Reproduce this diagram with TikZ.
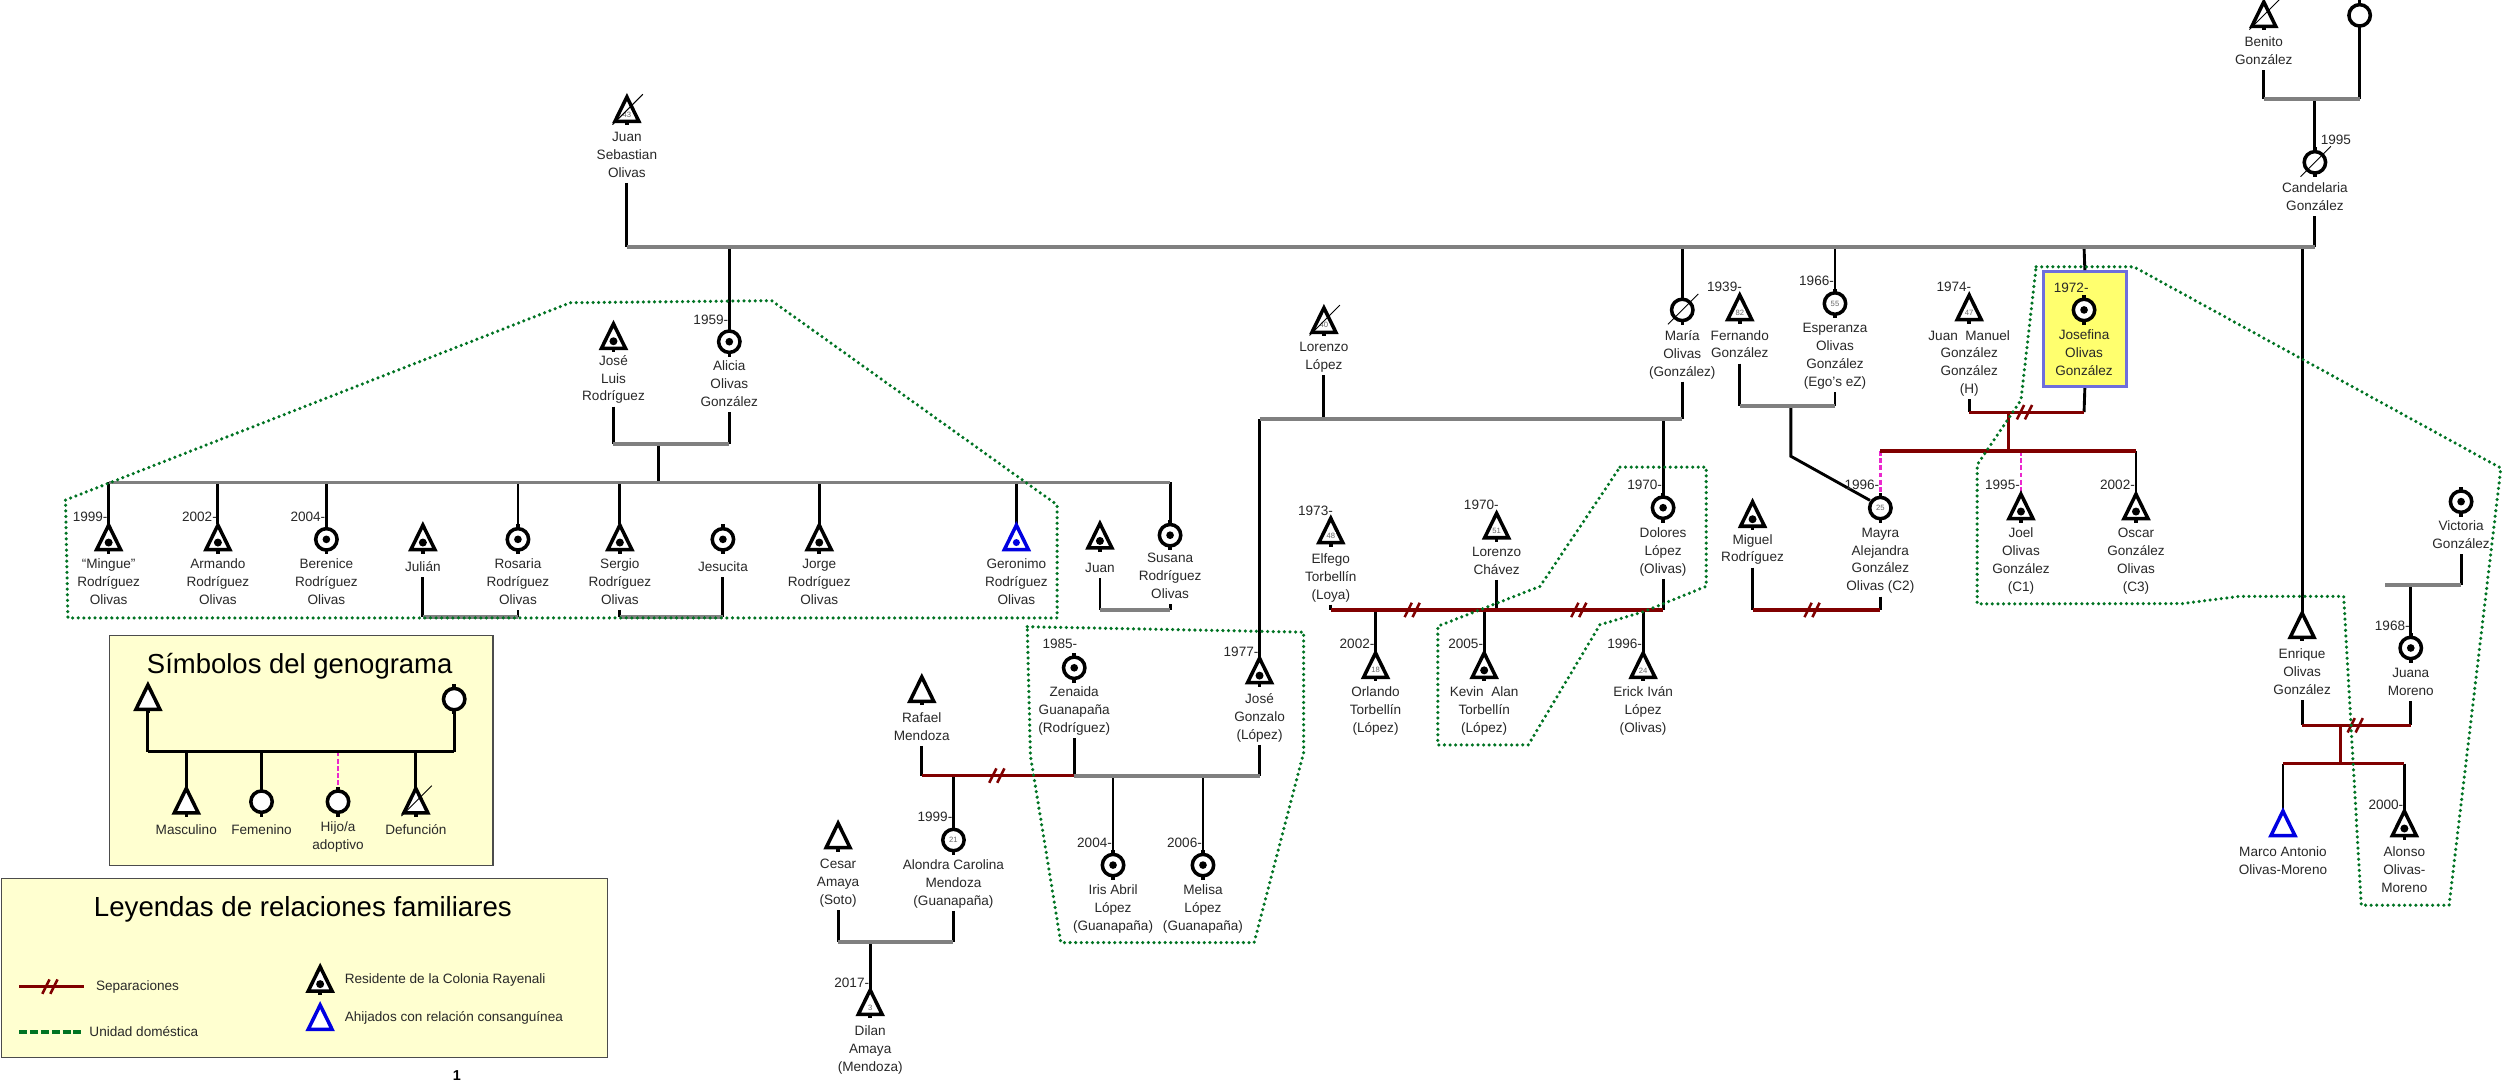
\documentclass[tikz,border=0pt]{standalone}
\usepackage{fontspec}
\setmainfont{Liberation Sans}
\usetikzlibrary{calc}
\definecolor{sepred}{RGB}{128,0,0}
\definecolor{mgray}{RGB}{128,128,128}
\definecolor{hhgreen}{RGB}{0,115,35}
\definecolor{adopt}{RGB}{235,40,205}
\definecolor{egoyel}{RGB}{255,255,110}
\definecolor{egoblue}{RGB}{110,110,220}
\definecolor{legfill}{RGB}{255,255,208}
\definecolor{symblue}{RGB}{0,0,225}
\definecolor{txt}{RGB}{40,40,40}
\newcommand\lblfont{\fontsize{8.5}{11.2}\selectfont}
\tikzset{
 conn/.style={line width=1.8pt,black},
 mline/.style={line width=2.4pt,mgray},
 rline/.style={line width=2.1pt,sepred},
 aline/.style={line width=1.8pt,adopt,dash pattern=on 3pt off 1.5pt},
 hh/.style={line width=2.2pt,hhgreen,dash pattern=on 0pt off 3.5pt,line cap=round,line join=round},
 hhleg/.style={line width=2.4pt,hhgreen,dash pattern=on 5pt off 1.8pt},
 symline/.style={line width=2.2pt,black,line join=miter},
 lab/.style={anchor=north,align=center,inner sep=0pt,font=\lblfont,text=txt,yshift=-1.5pt,execute at begin node=\strut,execute at end node=\strut},
 yr/.style={anchor=east,inner sep=0pt,font=\lblfont,text=txt,xshift=-2pt},
 legt/.style={anchor=west,inner sep=0pt,font=\lblfont,text=txt},
 agef/.style={inner sep=0.3pt,fill=white,font=\fontsize{4.8}{5}\selectfont,text=black!60},
 pics/tri/.style={code={\draw[symline,fill=white] (0,-8.3)--(7.5,7)--(-7.5,7)--cycle; \draw[symline] (0,7)--(0,9.5);}},
 pics/btri/.style={code={\draw[symline,draw=symblue,fill=white] (0,-8.3)--(7.5,7)--(-7.5,7)--cycle;}},
 pics/circ/.style={code={\draw[symline,fill=white] (0,0) circle (6.7); \draw[symline] (0,-6.7)--(0,-9.3) (0,6.7)--(0,9.3);}},
 pics/rtri/.style={code={\fill (0,2.6) circle (2.5);}},
 pics/rcir/.style={code={\fill (0,0) circle (2.4);}},
 pics/bdot/.style={code={\fill[symblue] (0,2.6) circle (2.2);}},
 pics/dec/.style={code={\draw[line width=0.6pt] (-9,9)--(10,-10);}},
 pics/agt/.style={code={\node[agef] at (0,2.6) {#1};}},
 pics/agc/.style={code={\node[agef] at (0,0) {#1};}},
 pics/sepmark/.style={code={\draw[sepred,line width=1.6pt] (-5.5,4.5)--(-1,-4.5) (-0.5,4.5)--(4,-4.5);}},
}
\begin{document}
\begin{tikzpicture}[x=1pt,y=-1pt]
\useasboundingbox[fill=white] (0,0) rectangle (1568,677);

% ---------- person positions
\coordinate (jso) at (392.4,69);
\coordinate (ben) at (1417,9.5);
\coordinate (bw) at (1477,9.6);
\coordinate (can) at (1449,101.6);
\coordinate (jlr) at (384,211);
\coordinate (ali) at (456.5,213.9);
\coordinate (min) at (68,337);
\coordinate (arm) at (136.4,337);
\coordinate (ber) at (204.3,337.6);
\coordinate (jul) at (264.7,337);
\coordinate (ros) at (324.2,337.6);
\coordinate (ser) at (388,337);
\coordinate (jes) at (452.5,337.6);
\coordinate (jor) at (512.8,337);
\coordinate (ger) at (636.2,337);
\coordinate (jua) at (688.5,336);
\coordinate (sus) at (732.4,335);
\coordinate (llo) at (828.7,201);
\coordinate (mar) at (1053,194);
\coordinate (fer) at (1089,193);
\coordinate (esp) at (1148.6,190);
\coordinate (jmg) at (1232.6,193);
\coordinate (jos) at (1304.5,194);
\coordinate (enr) at (1441,392);
\coordinate (vic) at (1540.5,314);
\coordinate (jun) at (1509,405.6);
\coordinate (mao) at (1429,516);
\coordinate (alo) at (1505,516);
\coordinate (may) at (1177,318);
\coordinate (joe) at (1265,317.6);
\coordinate (osc) at (1337,317.6);
\coordinate (mig) at (1097,322.4);
\coordinate (elf) at (833,332.7);
\coordinate (lch) at (936.8,329.6);
\coordinate (dol) at (1041,317.8);
\coordinate (orl) at (861,417);
\coordinate (kev) at (929,417);
\coordinate (eri) at (1028.5,417);
\coordinate (zen) at (672.4,418);
\coordinate (jgo) at (788.4,420.3);
\coordinate (raf) at (577,432);
\coordinate (alc) at (596.8,525.8);
\coordinate (ces) at (524.6,523.6);
\coordinate (dil) at (544.7,628);
\coordinate (iri) at (696.7,541.5);
\coordinate (mel) at (753,541.5);

% ---------- legend boxes
\node[draw=black!70,fill=legfill,line width=0.8pt,minimum width=240pt,minimum height=144pt,inner sep=0pt] (leg1) at (188.65,469.9) {};
\node[draw=black!70,fill=legfill,line width=0.8pt,minimum width=379.4pt,minimum height=112pt,inner sep=0pt] (leg2) at (190.7,605.8) {};
\node[anchor=base,inner sep=0pt,font=\fontsize{17.2}{20}\selectfont] (leg1t) at (187.6,421.5) {Símbolos del genograma};
\node[anchor=base,inner sep=0pt,font=\fontsize{17.3}{20}\selectfont] (leg2t) at (189.6,573.4) {Leyendas de relaciones familiares};

% ---------- Josefina box
\node[draw=egoblue,fill=egoyel,line width=1.8pt,minimum width=52pt,minimum height=72pt,inner sep=0pt] (josbox) at (1305,206) {};

% ---------- labels
\node[lab] (jsoL) at (392.4,80.9) {Juan\\Sebastian\\Olivas};
\node[lab] (benL) at (1417,21.3) {Benito\\González};
\node[lab] (canL) at (1449,112.8) {Candelaria\\González};
\node[lab] (jlrL) at (384,220.6) {José\\Luis\\Rodríguez};
\node[lab] (aliL) at (456.5,224.3) {Alicia\\Olivas\\González};
\node[lab] (minL) at (68,348.3) {“Mingue”\\Rodríguez\\Olivas};
\node[lab] (armL) at (136.4,348.3) {Armando\\Rodríguez\\Olivas};
\node[lab] (berL) at (204.3,348.3) {Berenice\\Rodríguez\\Olivas};
\node[lab] (julL) at (264.7,348.3) {Julián};
\node[lab] (rosL) at (324.2,348.3) {Rosaria\\Rodríguez\\Olivas};
\node[lab] (serL) at (388,348.3) {Sergio\\Rodríguez\\Olivas};
\node[lab] (jesL) at (452.5,348.3) {Jesucita};
\node[lab] (jorL) at (512.8,348.3) {Jorge\\Rodríguez\\Olivas};
\node[lab] (gerL) at (636.2,348.3) {Geronimo\\Rodríguez\\Olivas};
\node[lab] (juaL) at (688.5,349) {Juan};
\node[lab] (susL) at (732.4,344.7) {Susana\\Rodríguez\\Olivas};
\node[lab] (lloL) at (828.7,212.7) {Lorenzo\\López};
\node[lab] (marL) at (1053,205) {María\\Olivas\\(González)};
\node[lab] (ferL) at (1089,205) {Fernando\\González};
\node[lab] (espL) at (1148.6,200.8) {Esperanza\\Olivas\\González\\(Ego's eZ)};
\node[lab] (jmgL) at (1232.6,205) {Juan\ \ Manuel\\González\\González\\(H)};
\node[lab] (josL) at (1304.5,204.7) {Josefina\\Olivas\\González};
\node[lab] (enrL) at (1441,404.2) {Enrique\\Olivas\\González};
\node[lab] (vicL) at (1540.5,324.3) {Victoria\\González};
\node[lab] (junL) at (1509,416.7) {Juana\\Moreno};
\node[lab] (maoL) at (1429,528.3) {Marco Antonio\\Olivas-Moreno};
\node[lab] (aloL) at (1505,528.3) {Alonso\\Olivas-\\Moreno};
\node[lab] (mayL) at (1177,328.7) {Mayra\\Alejandra\\González\\Olivas (C2)};
\node[lab] (joeL) at (1265,328.7) {Joel\\Olivas\\González\\(C1)};
\node[lab] (oscL) at (1337,328.7) {Oscar\\González\\Olivas\\(C3)};
\node[lab] (migL) at (1097,332.7) {Miguel\\Rodríguez};
\node[lab] (elfL) at (833,344.7) {Elfego\\Torbellín\\(Loya)};
\node[lab] (lchL) at (936.8,340.6) {Lorenzo\\Chávez};
\node[lab] (dolL) at (1041,328.6) {Dolores\\López\\(Olivas)};
\node[lab] (orlL) at (861,428.3) {Orlando\\Torbellín\\(López)};
\node[lab] (kevL) at (929,428.3) {Kevin\ \ Alan\\Torbellín\\(López)};
\node[lab] (eriL) at (1028.5,428.3) {Erick Iván\\López\\(Olivas)};
\node[lab] (zenL) at (672.4,428.3) {Zenaida\\Guanapaña\\(Rodríguez)};
\node[lab] (jgoL) at (788.4,432.3) {José\\Gonzalo\\(López)};
\node[lab] (rafL) at (577,444.3) {Rafael\\Mendoza};
\node[lab] (alcL) at (596.8,536.3) {Alondra Carolina\\Mendoza\\(Guanapaña)};
\node[lab] (cesL) at (524.6,536.3) {Cesar\\Amaya\\(Soto)};
\node[lab] (dilL) at (544.7,640.3) {Dilan\\Amaya\\(Mendoza)};
\node[lab] (iriL) at (696.7,552.3) {Iris Abril\\López\\(Guanapaña)};
\node[lab] (melL) at (753,552.3) {Melisa\\López\\(Guanapaña)};

% ---------- connectors
% Benito and wife
\coordinate (bL) at (1417,62); \coordinate (bR) at (1477,62);
\draw[conn] (benL.south) -- (bL);
\draw[conn] ($(bw)+(0,9.3)$) -- (bR);
\draw[conn] (can |- bL) -- ($(can)+(0,-9.3)$);
\draw[mline] (bL) -- (bR);
% main sibship
\coordinate (mL) at (392.4,154.6); \coordinate (mR) at (1449,154.6);
\draw[conn] (jsoL.south) -- (mL);
\draw[conn] (canL.south) -- (mR);
\draw[conn] (ali |- mL) -- ($(ali)+(0,-9.3)$);
\draw[conn] (mar |- mL) -- ($(mar)+(0,-9.3)$);
\draw[conn] (esp |- mL) -- ($(esp)+(0,-9.3)$);
\draw[conn] (jos |- mL) -- (josbox.north);
\draw[conn] (enr |- mL) -- ($(enr)+(0,-8.3)$);
\draw[mline] (mL) -- (mR);
% Jose Luis - Alicia
\coordinate (aL) at (384,278); \coordinate (aR) at (456.5,278);
\coordinate (aC) at (412.4,278);
\coordinate (cL) at (68,302); \coordinate (cR) at (732.4,302);
\draw[conn] (jlrL.south) -- (aL);
\draw[conn] (aliL.south) -- (aR);
\draw[conn] (aC) -- (aC |- cL);
\foreach \p in {min,arm,ber,ros,ser,jor,ger,sus} {\draw[conn] (\p |- cL) -- ($(\p)+(0,-8.8)$);}
\draw[mline] (aL) -- (aR);
\draw[mline] (cL) -- (cR);
% couples in children row
\coordinate (jrL) at (264.7,386); \coordinate (jrR) at (324.2,386);
\draw[conn] (julL.south) -- (jrL); \draw[conn] (rosL.south) -- (jrR);
\draw[mline] (jrL) -- (jrR);
\coordinate (sjL) at (388,386); \coordinate (sjR) at (452.5,386);
\draw[conn] (serL.south) -- (sjL); \draw[conn] (jesL.south) -- (sjR);
\draw[mline] (sjL) -- (sjR);
\coordinate (jsL) at (688.5,381.8); \coordinate (jsR) at (732.4,381.8);
\draw[conn] (juaL.south) -- (jsL); \draw[conn] (susL.south) -- (jsR);
\draw[mline] (jsL) -- (jsR);
% Lorenzo Lopez - Maria
\coordinate (lmL) at (788.4,262.2); \coordinate (lmR) at (1053,262.2);
\draw[conn] (lloL.south) -- (llo |- lmL);
\draw[conn] (marL.south) -- (lmR);
\draw[conn] (lmL) -- ($(jgo)+(0,-8.3)$);
\draw[conn] (dol |- lmL) -- ($(dol)+(0,-9.3)$);
\draw[mline] (lmL) -- (lmR);
% Fernando - Esperanza
\coordinate (feL) at (1089,254); \coordinate (feR) at (1148.6,254);
\coordinate (feC) at (1121,254); \coordinate (feK) at (1121,285.6);
\draw[conn] (ferL.south) -- (feL); \draw[conn] (espL.south) -- (feR);
\draw[conn] (feC) -- (feK) -- ($(may)+(-6.5,-4.8)$);
\draw[mline] (feL) -- (feR);
% Juan Manuel - Josefina
\coordinate (jjL) at (1232.6,258); \coordinate (jjR) at (1304.5,258);
\coordinate (jjC) at (1257,258); \coordinate (jjK) at (1257,282.3);
\coordinate (kL) at (1177,282.3); \coordinate (kR) at (1337,282.3);
\draw[conn] (jmgL.south) -- (jjL); \draw[conn] (josbox.south) -- (jjR);
\draw[aline] (kL) -- ($(may)+(0,-9.3)$);
\draw[aline] (joe |- kL) -- ($(joe)+(0,-8.3)$);
\draw[conn] (kR) -- ($(osc)+(0,-8.3)$);
\draw[rline] (jjL) -- (jjR);
\draw[rline] (jjC) -- (jjK);
\draw[rline] (kL) -- (kR);
\pic at (1268,258) {sepmark};
% Miguel - Mayra
\coordinate (mmL) at (1097,381.8); \coordinate (mmR) at (1177,381.8);
\draw[conn] (migL.south) -- (mmL); \draw[conn] (mayL.south) -- (mmR);
\draw[rline] (mmL) -- (mmR);
\pic at (1135,381.8) {sepmark};
% Elfego - Lorenzo Chavez - Dolores
\coordinate (edL) at (833,381.8); \coordinate (edR) at (1041,381.8);
\draw[conn] (elfL.south) -- (edL);
\draw[conn] (lchL.south) -- (lch |- edL);
\draw[conn] (dolL.south) -- (edR);
\foreach \p in {orl,kev,eri} {\draw[conn] (\p |- edL) -- ($(\p)+(0,-8.3)$);}
\draw[rline] (edL) -- (edR);
\pic at (884.7,381.8) {sepmark};
\pic at (989,381.8) {sepmark};
% Rafael - Zenaida - Jose Gonzalo
\coordinate (rzL) at (577,485.5); \coordinate (rzR) at (672.4,485.5); \coordinate (zjR) at (788.4,485.5);
\draw[conn] (rafL.south) -- (rzL); \draw[conn] (zenL.south) -- (rzR); \draw[conn] (jgoL.south) -- (zjR);
\draw[conn] (alc |- rzL) -- ($(alc)+(0,-9.3)$);
\draw[conn] (iri |- rzL) -- ($(iri)+(0,-9.3)$);
\draw[conn] (mel |- rzL) -- ($(mel)+(0,-9.3)$);
\draw[rline] (rzL) -- (rzR);
\draw[mline] (rzR) -- (zjR);
\pic at (624.7,485.5) {sepmark};
% Cesar - Alondra
\coordinate (caL) at (524.6,589.4); \coordinate (caR) at (596.8,589.4);
\draw[conn] (cesL.south) -- (caL); \draw[conn] (alcL.south) -- (caR);
\draw[conn] (dil |- caL) -- ($(dil)+(0,-8.3)$);
\draw[mline] (caL) -- (caR);
% Enrique - Juana
\coordinate (ejL) at (1441,454); \coordinate (ejR) at (1509,454);
\coordinate (ejC) at (1465,454); \coordinate (ejK) at (1465,478);
\coordinate (gL) at (1429,478); \coordinate (gR) at (1505,478);
\draw[conn] (enrL.south) -- (ejL); \draw[conn] (junL.south) -- (ejR);
\draw[conn] (gL) -- ($(mao)+(0,-8.3)$); \draw[conn] (gR) -- ($(alo)+(0,-8.3)$);
\draw[rline] (ejL) -- (ejR);
\draw[rline] (ejC) -- (ejK);
\draw[rline] (gL) -- (gR);
\pic at (1475,454) {sepmark};
% Victoria
\coordinate (vL) at (1493,366); \coordinate (vR) at (1540.5,366);
\draw[conn] (vicL.south) -- (vR);
\draw[conn] (jun |- vL) -- ($(jun)+(0,-9.3)$);
\draw[mline] (vL) -- (vR);

% ---------- households
\draw[hh] (41,313) -- (357,189.5) -- (483,188.2) -- (661.7,316) -- (661.7,386.8) -- (42.5,386.8) -- cycle;
\draw[hh] (643,392.3) -- (816,395.7) -- (816,471) -- (785,590) -- (664,590) -- (645,473) -- cycle;
\draw[hh] (1014,292.4) -- (1068,292.4) -- (1068,367) -- (1028.5,383) -- (1001.5,391) -- (956.6,466.3) -- (900,466.3) -- (900,392) -- (964,367) -- cycle;
\draw[hh] (1274.5,167) -- (1335.6,167) -- (1565.4,293) -- (1533,566.6) -- (1478,566.6) -- (1467,373.3) -- (1401.5,373.3) -- (1366,377.8) -- (1237.6,378) -- (1237.6,291) -- (1265,250.4) -- cycle;

% ---------- symbols
\pic at (jso) {tri}; \pic at (jso) {agt=43}; \pic at (jso) {dec};
\pic at (ben) {tri}; \pic at (ben) {dec};
\pic at (bw) {circ};
\pic at (can) {circ}; \pic at (can) {dec};
\pic at (jlr) {tri}; \pic at (jlr) {rtri};
\pic at (ali) {circ}; \pic at (ali) {rcir};
\foreach \p in {min,arm,jul,ser,jor,jua,joe,osc,mig,kev,jgo,alo} {\pic at (\p) {tri}; \pic at (\p) {rtri};}
\foreach \p in {ber,ros,jes,sus,jos,vic,jun,dol,zen,iri,mel} {\pic at (\p) {circ}; \pic at (\p) {rcir};}
\pic at (ger) {btri}; \pic at (ger) {bdot};
\pic at (llo) {tri}; \pic at (llo) {agt=40}; \pic at (llo) {dec};
\pic at (mar) {circ}; \pic at (mar) {dec};
\pic at (fer) {tri}; \pic at (fer) {agt=82};
\pic at (esp) {circ}; \pic at (esp) {agc=55};
\pic at (jmg) {tri}; \pic at (jmg) {agt=47};
\pic at (enr) {tri};
\pic at (mao) {btri};
\pic at (may) {circ}; \pic at (may) {agc=25};
\pic at (elf) {tri}; \pic at (elf) {agt=48};
\pic at (lch) {tri}; \pic at (lch) {agt=51};
\pic at (orl) {tri}; \pic at (orl) {agt=18};
\pic at (eri) {tri}; \pic at (eri) {agt=24};
\pic at (raf) {tri};
\pic at (alc) {circ}; \pic at (alc) {agc=21};
\pic at (ces) {tri};
\pic at (dil) {tri}; \pic at (dil) {agt=3};

% ---------- years
\node[yr] (yali) at (458,200) {1959-};
\node[yr] (ymin) at (69.5,323.6) {1999-};
\node[yr] (yarm) at (137.9,323.6) {2002-};
\node[yr] (yber) at (205.8,323.6) {2004-};
\node[yr] (yfer) at (1092.5,179.6) {1939-};
\node[yr] (yesp) at (1150.1,176) {1966-};
\node[yr] (yjmg) at (1236.1,179.6) {1974-};
\node[yr] (yjos) at (1309.5,180) {1972-};
\node[yr] (yjun) at (1510.5,392) {1968-};
\node[yr] (yalo) at (1506.5,504) {2000-};
\node[yr] (ymay) at (1178.5,303.6) {1996-};
\node[yr] (yjoe) at (1266.5,303.6) {1995-};
\node[yr] (yosc) at (1338.5,303.6) {2002-};
\node[yr] (yelf) at (836.5,319.8) {1973-};
\node[yr] (ylch) at (940.3,315.7) {1970-};
\node[yr] (ydol) at (1042.5,303.6) {1970-};
\node[yr] (yorl) at (862.5,403) {2002-};
\node[yr] (ykev) at (930.5,403) {2005-};
\node[yr] (yeri) at (1030,403) {1996-};
\node[yr] (yzen) at (676.5,403) {1985-};
\node[yr] (yjgo) at (789.9,408) {1977-};
\node[yr] (yalc) at (598.3,511.5) {1999-};
\node[yr] (ydil) at (546.2,615.5) {2017-};
\node[yr] (yiri) at (698.2,527.8) {2004-};
\node[yr] (ymel) at (754.5,527.8) {2006-};
\node[anchor=west,inner sep=0pt,font=\lblfont,text=txt] (ycan) at (1452.5,87.6) {1995};

% ---------- legend 1 content
\coordinate (lm) at (92.6,437); \coordinate (lf) at (284.3,437.6);
\coordinate (lhL) at (92.6,470.5); \coordinate (lhR) at (284.3,470.5);
\coordinate (lc1) at (116.6,501.8); \coordinate (lc2) at (163.7,501.8);
\coordinate (lc3) at (211.6,501.8); \coordinate (lc4) at (260.3,501.8);
\draw[conn] ($(lm)+(0,9.5)$) -- (lhL);
\draw[conn] ($(lf)+(0,9.3)$) -- (lhR);
\draw[conn] (lc1 |- lhL) -- ($(lc1)+(0,-8.3)$);
\draw[conn] (lc2 |- lhL) -- ($(lc2)+(0,-9.3)$);
\draw[aline] (lc3 |- lhL) -- ($(lc3)+(0,-9.3)$);
\draw[conn] (lc4 |- lhL) -- ($(lc4)+(0,-8.3)$);
\draw[conn] (lhL) -- (lhR);
\pic at (lm) {tri}; \pic at (lf) {circ};
\pic at (lc1) {tri}; \pic at (lc2) {circ}; \pic at (lc3) {circ};
\pic at (lc4) {tri}; \pic at (lc4) {dec};
\node[lab] (lc1L) at (116.6,512.7) {Masculino};
\node[lab] (lc2L) at (163.7,512.7) {Femenino};
\node[lab] (lc3L) at (211.6,512.7) {Hijo/a\\adoptivo};
\node[lab] (lc4L) at (260.3,512.7) {Defunción};

% ---------- legend 2 content
\coordinate (ls1) at (12,617.6); \coordinate (ls2) at (52.7,617.6);
\draw[rline] (ls1) -- (ls2);
\pic at (32,617.6) {sepmark};
\node[legt] (lsT) at (59.9,617.6) {Separaciones};
\coordinate (lg1) at (12,645.8); \coordinate (lg2) at (52.7,645.8);
\draw[hhleg] (lg1) -- (lg2);
\node[legt] (lgT) at (55.8,645.8) {Unidad doméstica};
\coordinate (lr) at (200.4,613.4); \coordinate (lb) at (200.4,637.4);
\pic at (lr) {tri}; \pic at (lr) {rtri};
\pic at (lb) {btri};
\node[legt] (lrT) at (215.6,613.4) {Residente de la Colonia Rayenali};
\node[legt] (lbT) at (215.6,637.4) {Ahijados con relación consanguínea};

\node[inner sep=0pt,font=\bfseries\fontsize{9}{9}\selectfont] (pg) at (286,673) {1};
\end{tikzpicture}
\end{document}
